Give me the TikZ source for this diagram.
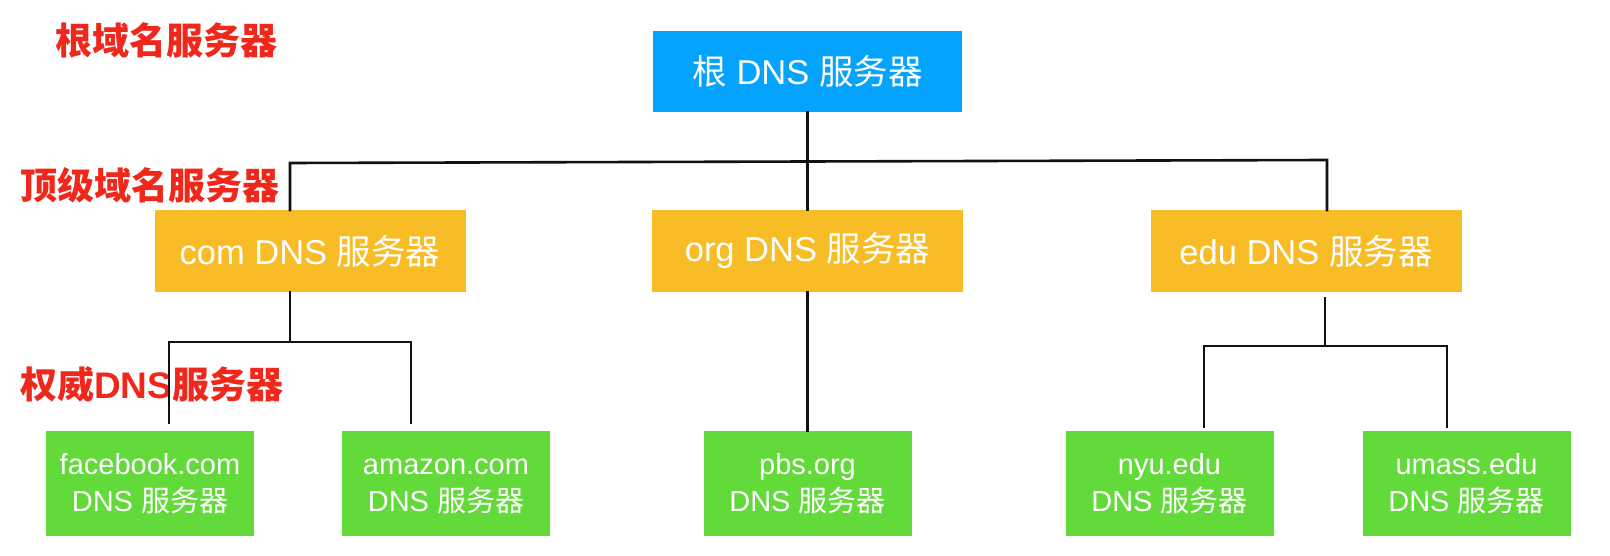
\documentclass[tikz,border=0pt]{standalone}
\usepackage{fontspec}
\setmainfont{Liberation Sans}
\newfontfamily\cjk{Noto Sans CJK SC}
\definecolor{rootblue}{HTML}{03A3FE}
\definecolor{tldorange}{HTML}{F8BC26}
\definecolor{authgreen}{HTML}{62DA3A}
\definecolor{labelred}{HTML}{F0281C}
\definecolor{linedark}{HTML}{111111}
\newcommand\fwq{{\cjk 服务器}}
\newcommand\lnstrut{\vphantom{bdk}}
\begin{document}
\begin{tikzpicture}[x=1pt,y=-1pt,
  boxbase/.style={inner sep=0pt, outer sep=0pt, text=white, align=center},
  rootbox/.style={boxbase, fill=rootblue, minimum width=309pt, minimum height=81pt, font=\fontsize{34.5}{40}\selectfont},
  tldbox/.style={boxbase, fill=tldorange, minimum width=311pt, minimum height=82pt, font=\fontsize{34.5}{40}\selectfont},
  authbox/.style={boxbase, fill=authgreen, minimum width=208pt, minimum height=105pt, font=\fontsize{29}{37}\selectfont},
  lvllabel/.style={inner sep=0pt, anchor=west, text=labelred, font=\fontsize{37}{40}\selectfont\bfseries},
  conn/.style={draw=linedark, line width=2.6pt, line cap=rect, line join=miter}]
\useasboundingbox (0,0) rectangle (1610,556);
\fill[white] (0,0) rectangle (1610,556);

% level labels
\node[lvllabel] (lroot) at (55,40) {\cjk 根域名服务器};
\node[lvllabel] (ltld) at (20,185) {\cjk 顶级域名服务器};
\node[lvllabel] (lauth) at (20,384) {{\cjk 权威}DNS{\cjk 服务器}};

% boxes
\node[rootbox] (root) at (807.5,71.5) {{\cjk 根} DNS \fwq};
\node[tldbox] (com) at (310,251) {com DNS \fwq};
\node[tldbox] (org) at (807.5,251) {org DNS \fwq};
\node[tldbox] (edu) at (1306,251) {edu DNS \fwq};
\node[authbox] (fb) at (150,483.5) {\lnstrut facebook.com\\DNS \fwq};
\node[authbox] (amz) at (446,483.5) {\lnstrut amazon.com\\DNS \fwq};
\node[authbox] (pbs) at (807.5,483.5) {\lnstrut pbs.org\\DNS \fwq};
\node[authbox] (nyu) at (1169.5,483.5) {\lnstrut nyu.edu\\DNS \fwq};
\node[authbox] (uma) at (1466.5,483.5) {\lnstrut umass.edu\\DNS \fwq};

% junction coordinates
\coordinate (tl) at (290,163);
\coordinate (tr) at (1327,160);
\coordinate (cj) at (290,342);
\coordinate (cl) at (169,342);
\coordinate (cr) at (411,342);
\coordinate (ej) at (1325,346);
\coordinate (el) at (1204,346);
\coordinate (er) at (1447,346);

% connectors
\draw[conn] (root.south) -- (org.north);
\draw[conn] (tl |- com.north) -- (tl) -- (tr) -- (tr |- edu.north);
\draw[conn] (com.south -| cj) -- (cj);
\draw[conn] (cl) -- (cr);
\draw[conn, shorten >=8pt] (cl) -- (cl |- fb.north);
\draw[conn, shorten >=8pt] (cr) -- (cr |- amz.north);
\draw[conn] (org.south) -- (pbs.north);
\draw[conn, shorten <=6pt] (edu.south -| ej) -- (ej);
\draw[conn] (el) -- (er);
\draw[conn, shorten >=4pt] (el) -- (el |- nyu.north);
\draw[conn, shorten >=4pt] (er) -- (er |- uma.north);
\end{tikzpicture}
\end{document}
